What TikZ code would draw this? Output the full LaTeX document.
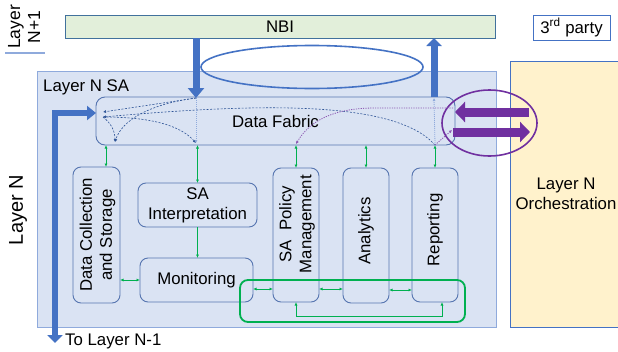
\documentclass[tikz,border=0pt]{standalone}
\usepackage{fontspec}
\setmainfont{Liberation Sans}
\usetikzlibrary{arrows.meta,calc,shapes.geometric}
\definecolor{sabg}{HTML}{DAE3F3}
\definecolor{sabd}{HTML}{8FAADC}
\definecolor{modb}{HTML}{5675B0}
\definecolor{nbif}{HTML}{E2EFDA}
\definecolor{nbid}{HTML}{41719C}
\definecolor{orf}{HTML}{FFF2CC}
\definecolor{ordc}{HTML}{4472C4}
\definecolor{bblue}{HTML}{4472C4}
\definecolor{purp}{HTML}{7030A0}
\definecolor{grn}{HTML}{00B050}
\definecolor{dshc}{HTML}{2F5597}
\definecolor{dotc}{HTML}{8FAADC}
\tikzset{
  box/.style={anchor=north west, inner sep=0pt, outer sep=0pt},
  modbox/.style={box, draw=modb, fill=sabg, line width=0.9pt, rounded corners=8pt},
  garr/.style={draw=grn, line width=0.8pt, {Latex[length=3.5pt,width=3pt]}-{Latex[length=3.5pt,width=3pt]}},
  garrone/.style={draw=grn, line width=0.8pt, -{Latex[length=3.5pt,width=3pt]}},
  dline/.style={draw=dshc, line width=0.6pt, dash pattern=on 2pt off 1.5pt, -{Latex[length=3pt,width=3pt]}},
  vdot/.style={draw=dotc, line width=0.8pt, dash pattern=on 1pt off 1pt, -{Latex[length=3pt,width=3pt]}},
  pdot/.style={draw=purp!80, line width=0.8pt, dash pattern=on 1.2pt off 1.2pt, -{Latex[length=3pt,width=3pt]}},
  bigblue/.style={draw=bblue, line width=7pt, -{Triangle[width=16pt,length=10pt]}},
  bigpurp/.style={draw=purp, line width=9pt, -{Triangle[width=20pt,length=10pt]}},
  rtext/.style={rotate=90, align=center, inner sep=0pt}
}
\begin{document}
\begin{tikzpicture}[x=1pt,y=-1pt, font=\fontsize{16.8}{20}\selectfont]
\useasboundingbox (0,0) rectangle (618,351);
\fill[white] (0,0) rectangle (618,351);

% Layer N+1 label
\node[rtext, font=\fontsize{17.5}{20}\selectfont] (ln1) at (24,27) {Layer\\N+1};
\draw[sabd, line width=1.5pt] (5,53) -- (45,53);
\node[rtext, font=\fontsize{20}{24}\selectfont] (ln) at (18,210) {Layer N};

% NBI and 3rd party
\node[box, draw=nbid, fill=nbif, line width=0.9pt, minimum width=430pt, minimum height=23pt] (nbi) at (65,15) {NBI};
\node[box, draw=ordc, fill=white, line width=0.9pt, minimum width=77pt, minimum height=25pt] (third) at (533,15) {3\textsuperscript{rd} party};

% Layer N SA and orchestration
\node[box, draw=sabd, fill=sabg, line width=0.9pt, minimum width=459pt, minimum height=256pt] (sa) at (37,71) {};
\node[anchor=base west, inner sep=0pt] (satxt) at (43,91) {Layer N SA};
\node[box, draw=ordc, fill=orf, line width=0.9pt, minimum width=120pt, minimum height=266pt] (orch) at (510,61) {};
\node[align=center, inner sep=0pt] (orchtxt) at (566,194) {Layer N\\Orchestration};

% Data fabric
\node[modbox, rounded corners=9pt, minimum width=359pt, minimum height=48pt] (fab) at (96,97) {Data Fabric};

% Modules
\node[modbox, minimum width=47pt, minimum height=136pt] (dcs) at (73,167) {};
\node[rtext] (dcstxt) at (97.5,235) {Data Collection\\and Storage};
\node[modbox, minimum width=119pt, minimum height=44pt, align=center] (sai) at (138,183) {SA\\Interpretation};
\node[modbox, minimum width=113pt, minimum height=44pt] (mon) at (140,258) {Monitoring};
\node[modbox, minimum width=46pt, minimum height=134pt] (sap) at (273,168) {};
\node[rtext] (saptxt) at (297,224) {SA\ \ Policy\\Management};
\node[modbox, minimum width=46pt, minimum height=135pt] (ana) at (343,168) {};
\node[rtext] (anatxt) at (366,231) {Analytics};
\node[modbox, minimum width=46pt, minimum height=134pt] (rep) at (412,168) {};
\node[rtext] (reptxt) at (435,230) {Reporting};

% ellipses
\node[draw=bblue, line width=1.6pt, ellipse, minimum width=222pt, minimum height=43pt, inner sep=0pt] (ell) at (312,67) {};
\node[draw=purp, line width=1.6pt, ellipse, minimum width=95pt, minimum height=66pt, inner sep=0pt] (pell) at (489.5,123) {};

% green loop
\node[box, draw=grn, line width=1.8pt, rounded corners=8pt, minimum width=225pt, minimum height=42pt] (gloop) at (240,280) {};

% green connectors
\coordinate (dcsc) at (106,167);
\draw[garr] (dcsc) -- (dcsc |- fab.south);
\draw[garr] (sai.north) -- (sai.north |- fab.south);
\draw[garr] (sap.north) -- (sap.north |- fab.south);
\draw[garr] (ana.north) -- (ana.north |- fab.south);
\draw[garr] (rep.north) -- (rep.north |- fab.south);
\draw[garrone] (sai.south) -- (sai.south |- mon.north);
\draw[garr] (mon.west) -- (mon.west -| dcs.east);
\coordinate (gy) at (0,289);
\coordinate (gy2) at (0,290);
\draw[garr] (mon.east |- gy) -- (sap.west |- gy);
\draw[garr] (sap.east |- gy) -- (ana.west |- gy);
\draw[garr] (ana.east |- gy2) -- (rep.west |- gy2);
\coordinate (lpR) at (442,302);
\draw[garr] (sap.south) |- ($(lpR)+(0,14)$) -- (lpR);

% dashed flows inside fabric
\coordinate (pL1) at (103,112);
\coordinate (pL2) at (103,117);
\coordinate (pD) at (196,98);
\coordinate (pB1) at (115,142);
\coordinate (pB2) at (196,143);
\coordinate (pR) at (435,145);
\coordinate (pU) at (434,98);
\coordinate (pP) at (453,108);
\coordinate (pQ) at (452,130);
\coordinate (pS) at (296,144);
\draw[dline] (pD) -- (pL1);
\draw[dline] (pR) .. controls (395,100) and (260,103) .. (pL2);
\draw[dline] (pL2) .. controls (112,124) and (115,132) .. (pB1);
\draw[dline] (pD) .. controls (150,104) and (122,120) .. (pB1);
\draw[dline] (pL2) .. controls (150,117) and (180,125) .. (pB2);
\draw[vdot] (pD) -- (pB2);
\draw[vdot] (pR) -- (pU);
\draw[pdot] (pP) -- (375,108) .. controls (335,108) and (310,120) .. (pS);
\draw[pdot] (pR) -- (pQ);

% big arrows
\draw[bigblue] (nbi.south -| pD) -- (pD);
\draw[bigblue, -{Triangle[width=15pt,length=8pt]}] (fab.north -| pU) -- (nbi.south -| pU);
\coordinate (lbot) at (55,343);
\coordinate (lcorner) at (55,113);
\draw[draw=bblue, line width=6pt, line join=miter, {Triangle[width=15pt,length=8pt]}-{Triangle[width=14pt,length=9pt]}] (lbot) -- (lcorner) -- (lcorner -| fab.west);
\node[anchor=base west, inner sep=0pt] (tol) at (65,345) {To Layer N-1};

\coordinate (pa1) at (529,112);
\coordinate (pa2) at (453,132);
\draw[bigpurp] (pa1) -- (pa1 -| fab.east);
\draw[bigpurp] (pa2) -- (pa2 -| orch.west) -- ++(20,0);
\end{tikzpicture}
\end{document}
